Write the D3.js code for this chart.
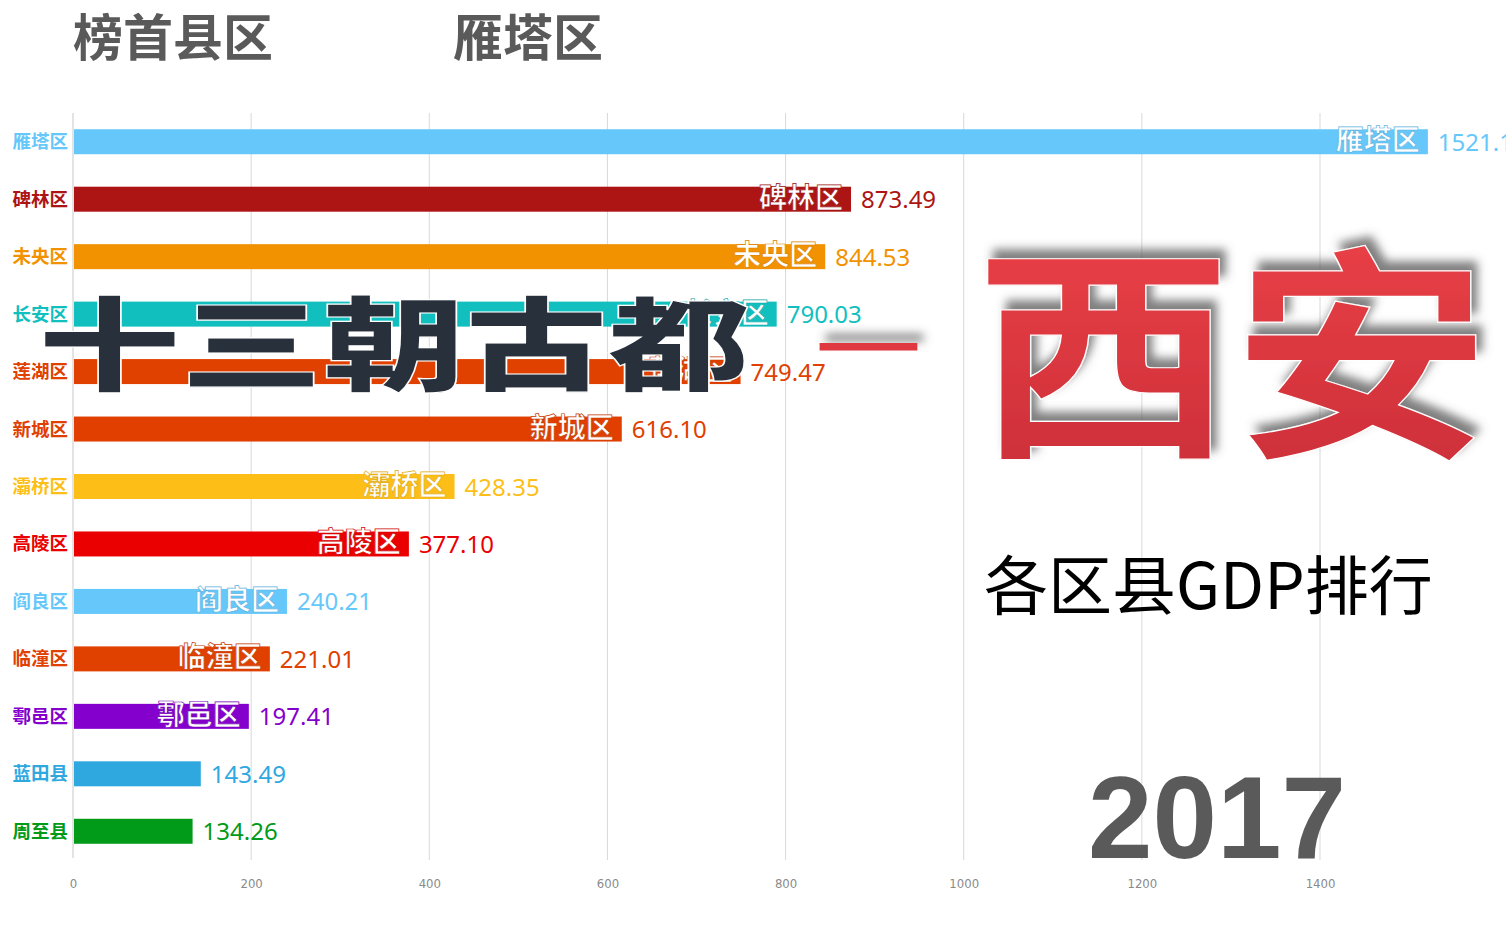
<!DOCTYPE html>
<html><head><meta charset="utf-8">
<script src="https://cdn.jsdelivr.net/npm/d3@7/dist/d3.min.js"></script>
<style>
html,body{margin:0;padding:0;background:#fff;overflow:hidden;}
svg{display:block;}
</style></head>
<body>
<svg id="chart" width="1506" height="941"></svg>
<script>
const categories = ["雁塔区","碑林区","未央区","长安区","莲湖区","新城区","灞桥区","高陵区","阎良区","临潼区","鄠邑区","蓝田县","周至县"];
const values = [1521.10,873.49,844.53,790.03,749.47,616.10,428.35,377.10,240.21,221.01,197.41,143.49,134.26];
const colors = ["#66c8fa","#ad1414","#f39200","#12bfbf","#e04000","#e03f00","#fdbf17","#ea0000","#66c8fa","#e04000","#8400cc","#2fa8df","#019a19"];
const tickValues = [0,200,400,600,800,1000,1200,1400];
const year = "2017";
const leaderTitle = "榜首县区";
const leaderName = "雁塔区";

const svg = d3.select("#chart");
const defs = svg.append("defs");

const x = d3.scaleLinear().domain([0,1400]).range([73,1320]);
const y = d3.scaleBand().domain(categories).range([113,860]).paddingInner(0.565).paddingOuter(0.2825);

// grid
const grid = svg.append("g");
grid.selectAll("line").data(tickValues.slice(1)).join("line")
  .attr("x1",d=>x(d)).attr("x2",d=>x(d)).attr("y1",113).attr("y2",860)
  .attr("stroke","#d9d9d9").attr("stroke-width",1);

// axis
const axis = svg.append("g").attr("transform","translate(0,860)")
  .call(d3.axisBottom(x).tickValues(tickValues).tickSize(0).tickPadding(19).tickFormat(d3.format("d")));
axis.select(".domain").remove();
axis.selectAll("text").attr("fill","#8a8a8a").attr("font-size",13)
  .attr("font-family","'Liberation Sans Narrow','DejaVu Sans Condensed',sans-serif");
svg.append("line").attr("x1",73).attr("x2",73).attr("y1",113).attr("y2",858)
  .attr("stroke","#c8c8c8").attr("stroke-width",1);

const rows = categories.map((c,i)=>({c, v:values[i], col:colors[i]}));

// bars
svg.append("g").selectAll("rect").data(rows).join("rect")
  .attr("x",x(0)+1).attr("y",d=>y(d.c))
  .attr("width",d=>x(d.v)-x(0)-1).attr("height",y.bandwidth())
  .attr("fill",d=>d.col);

// left labels
svg.append("g").selectAll("text").data(rows).join("text")
  .attr("x",68).attr("y",d=>y(d.c)+y.bandwidth()/2+6.5)
  .attr("text-anchor","end").attr("font-size",18.5).attr("font-weight",700)
  .attr("font-family","'Noto Sans CJK SC',sans-serif")
  .attr("fill",d=>d.col).text(d=>d.c);

// inner labels (only where the bar is long enough)
svg.append("g").selectAll("text").data(rows.filter(d=>d.v>190)).join("text")
  .attr("x",d=>x(d.v)-8).attr("y",d=>y(d.c)+y.bandwidth()-4)
  .attr("text-anchor","end").attr("font-size",28).attr("font-weight",700)
  .attr("font-family","'Noto Sans CJK SC',sans-serif")
  .attr("fill","#fff").attr("stroke",d=>d3.color(d.col).darker(0.3)).attr("stroke-width",0.7)
  .text(d=>d.c);

// value labels
svg.append("g").selectAll("text").data(rows).join("text")
  .attr("x",d=>x(d.v)+10).attr("y",d=>y(d.c)+y.bandwidth()/2+9)
  .attr("font-size",24)
  .attr("font-family","'Noto Sans','DejaVu Sans',sans-serif")
  .attr("fill",d=>d.col).text(d=>d3.format(".2f")(d.v));

// titles
svg.append("text").attr("x",73).attr("y",56).attr("font-size",50).attr("font-weight",700)
  .attr("font-family","'Noto Sans CJK SC',sans-serif").attr("fill","#5a5a5a").text(leaderTitle);
svg.append("text").attr("x",453).attr("y",56).attr("font-size",50).attr("font-weight",700)
  .attr("font-family","'Noto Sans CJK SC',sans-serif").attr("fill","#5a5a5a").text(leaderName);

// overlay title
svg.append("text").attr("x",38).attr("y",383).attr("font-size",102).attr("font-weight",900)
  .attr("font-family","'Noto Sans CJK SC',sans-serif")
  .attr("textLength",712).attr("lengthAdjust","spacingAndGlyphs")
  .attr("fill","#28303b").attr("stroke","#ffffff").attr("stroke-width",1.2)
  .text("十三朝古都");

const sh = defs.append("filter").attr("id","shadow").attr("x","-20%").attr("y","-40%").attr("width","140%").attr("height","180%");
sh.append("feGaussianBlur").attr("in","SourceAlpha").attr("stdDeviation",5).attr("result","b");
sh.append("feOffset").attr("in","b").attr("dx",6).attr("dy",-9).attr("result","o");
sh.append("feFlood").attr("flood-color","#555").attr("flood-opacity",0.75);
sh.append("feComposite").attr("in2","o").attr("operator","in").attr("result","s");
const m = sh.append("feMerge"); m.append("feMergeNode").attr("in","s"); m.append("feMergeNode").attr("in","SourceGraphic");

const grad = defs.append("linearGradient").attr("id","redgrad").attr("x1",0).attr("y1",0).attr("x2",0).attr("y2",1);
grad.append("stop").attr("offset","0%").attr("stop-color","#f0444a");
grad.append("stop").attr("offset","100%").attr("stop-color","#c92d37");

svg.append("text").attr("x",814).attr("y",381).attr("font-size",122).attr("font-weight",400)
  .attr("font-family","'Noto Sans CJK SC',sans-serif")
  .attr("fill","#e0393f").attr("filter","url(#shadow)").text("—");

svg.append("text").attr("x",975).attr("y",440).attr("font-size",228).attr("font-weight",700)
  .attr("font-family","'Noto Sans CJK SC',sans-serif")
  .attr("textLength",515).attr("lengthAdjust","spacingAndGlyphs")
  .attr("fill","url(#redgrad)").attr("stroke","#fff").attr("stroke-width",1.2)
  .attr("filter","url(#shadow)").text("西安");

svg.append("text").attr("x",984).attr("y",609).attr("font-size",64)
  .attr("font-family","'Noto Sans CJK SC',sans-serif").attr("fill","#000").text("各区县GDP排行");

svg.append("text").attr("x",1088).attr("y",858).attr("font-size",116).attr("font-weight",700)
  .attr("font-family","'Liberation Sans',Arial,sans-serif").attr("fill","#5a5a5a").text(year);
</script>
</body></html>
